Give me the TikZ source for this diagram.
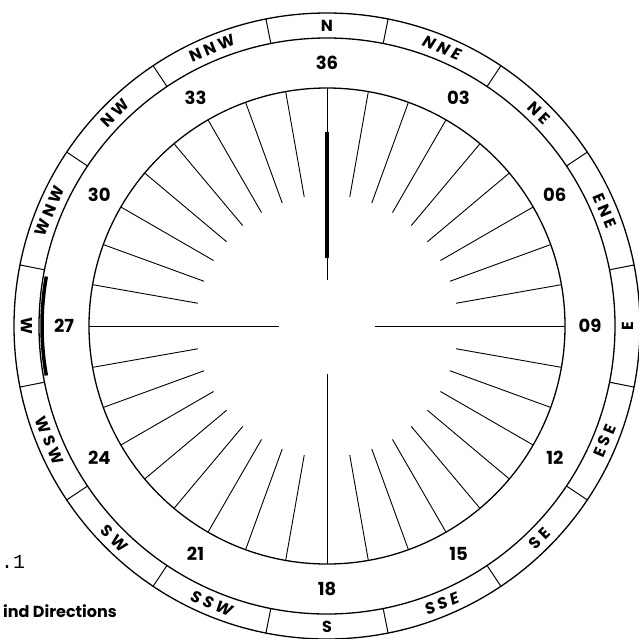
\documentclass[tikz,border=0pt]{standalone}
\usepackage{fontspec}
\setmainfont{Poppins}
\newfontfamily\monof{Liberation Mono}
\tikzset{
  ringline/.style={line width=1.3pt},
  divider/.style={line width=1pt},
  tick/.style={line width=0.9pt},
  numlabel/.style={font=\fontsize{18}{18}\selectfont\bfseries, inner sep=0pt},
  dirlabel/.style={font=\fontsize{16}{16}\selectfont\bfseries, inner sep=0pt},
}
\newcommand{\gp}{\hspace{3.5pt}}
\begin{document}
\begin{tikzpicture}[x=1pt,y=-1pt]
\useasboundingbox (0,0) rectangle (639,638);
\clip (0,0) rectangle (639,638);
\coordinate (c) at (327,326);
% circles
\draw[ringline] (c) circle[radius=238];
\draw[ringline] (c) circle[radius=288];
\draw[ringline] (c) circle[radius=313];
% thick segment on the W box
\draw[line width=3.5pt] ([shift={(c)}]170:285) arc[start angle=170, end angle=190, radius=285];
% dividers of the direction ring
\foreach \k in {0,...,15}{
  \pgfmathsetmacro\t{11.25+22.5*\k}
  \draw[divider] ([shift={(c)}]\t-90:288) -- ([shift={(c)}]\t-90:313);
}
% ticks every 10 degrees
\foreach \k in {1,...,35}{
  \pgfmathtruncatemacro\m{mod(\k,9)}
  \ifnum\m=0\relax
    \draw[tick] ([shift={(c)}]10*\k-90:238) -- ([shift={(c)}]10*\k-90:48);
  \else
    \draw[tick] ([shift={(c)}]10*\k-90:238) -- ([shift={(c)}]10*\k-90:131);
  \fi
}
% north line
\draw[tick] ([shift={(c)}]-90:238) -- ([shift={(c)}]-90:46);
\draw[line width=3.6pt] ([shift={(c)}]-90:194) -- ([shift={(c)}]-90:68);
% degree numbers
\foreach \t/\s [count=\i] in {0/36,30/03,60/06,90/09,120/12,150/15,180/18,210/21,240/24,270/27,300/30,330/33}{
  \node[numlabel, name=num\i] at ([shift={(c)}]\t-90:263) {\s};
}
% direction labels
\foreach \t/\s [count=\i] in {0/N,22.5/{\textit{N\gp N\gp E}},45/N\gp E,67.5/E\gp N\gp E,90/E,112.5/E\gp S\gp E,135/S\gp E,157.5/{\textit{S\gp S\gp E}},180/S,202.5/{\textit{S\gp S\gp W}},225/S\gp W,247.5/W\gp S\gp W,270/W,292.5/W\gp N\gp W,315/N\gp W,337.5/N\gp N\gp W}{
  \pgfmathsetmacro\rot{(\t<90 || \t>270) ? -\t : 180-\t}
  \node[dirlabel, rotate=\rot, name=dir\i] at ([shift={(c)}]\t-90:300.5) {\s};
}
% caption fragments
\node[anchor=base west, inner sep=0pt, font=\monof\fontsize{20}{20}\selectfont] (fig) at (1,568) {.1};
\node[anchor=base east, inner sep=0pt, font=\fontsize{16}{16}\selectfont\bfseries] (cap) at (117,617) {ind Directions};
\end{tikzpicture}
\end{document}
